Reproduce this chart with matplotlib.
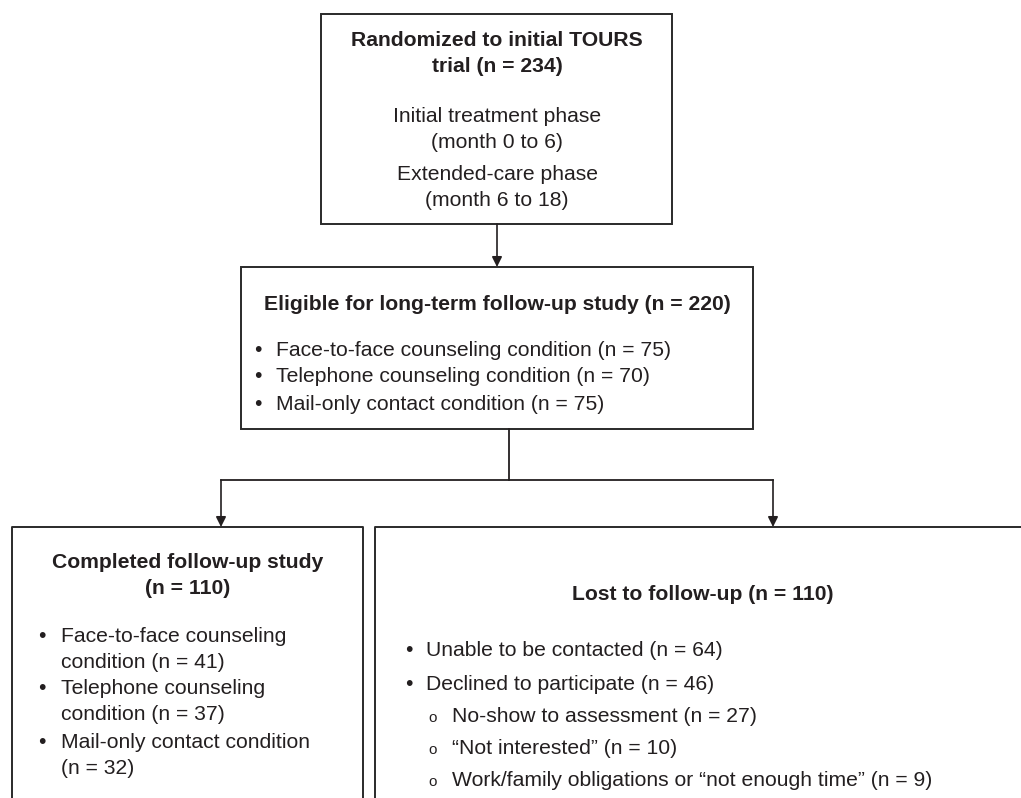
import matplotlib
matplotlib.use("Agg")
import matplotlib.pyplot as plt
from matplotlib.patches import Rectangle

plt.rcParams["font.family"] = ["Liberation Sans", "DejaVu Sans"]

# ---- flow data -----------------------------------------------------------
n_randomized = 234
n_eligible = 220
n_completed = 110
n_lost = 110

phases = ["Initial treatment phase", "Extended-care phase"]
phase_months = ["(month 0 to 6)", "(month 6 to 18)"]

conditions = ["Face-to-face counseling condition",
              "Telephone counseling condition",
              "Mail-only contact condition"]
eligible_n = [75, 70, 75]

# completed box wraps its condition names over two lines
completed_first = ["Face-to-face counseling", "Telephone counseling",
                   "Mail-only contact condition"]
completed_second = ["condition", "condition", ""]
completed_n = [41, 37, 32]

lost_reasons = ["Unable to be contacted", "Declined to participate"]
lost_n = [64, 46]
declined_reasons = ["No-show to assessment", "\u201cNot interested\u201d",
                    "Work/family obligations or \u201cnot enough time\u201d"]
declined_n = [27, 10, 9]

# ---- drawing -------------------------------------------------------------
INK = "#231f20"
EDGE = "#2a2a2a"
FS = 15.2

fig = plt.figure(figsize=(10.21, 7.98), dpi=100)
ax = fig.add_axes([0, 0, 1, 1])
ax.set_xlim(0, 1021)
ax.set_ylim(798, 0)
ax.axis("off")


def box(x0, y0, x1, y1):
    ax.add_patch(Rectangle((x0, y0), x1 - x0, y1 - y0, fill=False,
                           edgecolor=EDGE, linewidth=1.4, clip_on=False))


def arrow(x, y0, y1):
    ax.annotate("", xy=(x, y1), xytext=(x, y0),
                arrowprops=dict(arrowstyle="-|>", color=INK, lw=1.2,
                                mutation_scale=15, shrinkA=0, shrinkB=0))


def txt(x, y, s, ha="left", bold=False, size=FS):
    ax.text(x, y, s, ha=ha, va="center", color=INK, fontsize=size,
            fontweight="bold" if bold else "normal")


# top box
box(321, 14, 672, 224)
cx = 497
txt(cx, 40, "Randomized to initial TOURS", "center", True)
txt(cx, 67, f"trial (n = {n_randomized})", "center", True)
for i, (p, m) in enumerate(zip(phases, phase_months)):
    txt(cx, 117 + 57 * i, p, "center")
    txt(cx, 143 + 57 * i, m, "center")

arrow(497, 224, 267)

# eligible box
box(241, 267, 753, 429)
txt(cx, 305, f"Eligible for long-term follow-up study (n = {n_eligible})",
    "center", True)
for i, (c, n) in enumerate(zip(conditions, eligible_n)):
    y = 350 + 27 * i
    txt(258, y, "\u2022", "center")
    txt(276, y, f"{c} (n = {n})")

# split connector
ax.plot([509, 509], [429, 480], color=INK, lw=1.3)
ax.plot([221, 773], [480, 480], color=INK, lw=1.3)
arrow(221, 480, 527)
arrow(773, 480, 527)

# completed box (open at the bottom)
ax.plot([12, 12, 363, 363], [800, 527, 527, 800], color=EDGE, lw=1.4,
        clip_on=False)
lx = 187.5
txt(lx, 563, "Completed follow-up study", "center", True)
txt(lx, 589, f"(n = {n_completed})", "center", True)
y = 636
for first, second, n in zip(completed_first, completed_second, completed_n):
    txt(42, y, "\u2022", "center")
    txt(61, y, first)
    if second:
        txt(61, y + 26, f"{second} (n = {n})")
    else:
        txt(61, y + 26, f"(n = {n})")
    y += 53

# lost box (runs past the right and bottom edges)
ax.plot([1030, 375, 375], [527, 527, 800], color=EDGE, lw=1.4,
        clip_on=False)
rx = 703
txt(rx, 594, f"Lost to follow-up (n = {n_lost})", "center", True)
for i, (r, n) in enumerate(zip(lost_reasons, lost_n)):
    y = 650 + 34 * i
    txt(409, y, "\u2022", "center")
    txt(426, y, f"{r} (n = {n})")
for i, (r, n) in enumerate(zip(declined_reasons, declined_n)):
    y = 717 + 32 * i
    txt(433, y + 1, "o", "center", size=11)
    txt(452, y, f"{r} (n = {n})")

fig.savefig("out.png", dpi=100, facecolor="white")
